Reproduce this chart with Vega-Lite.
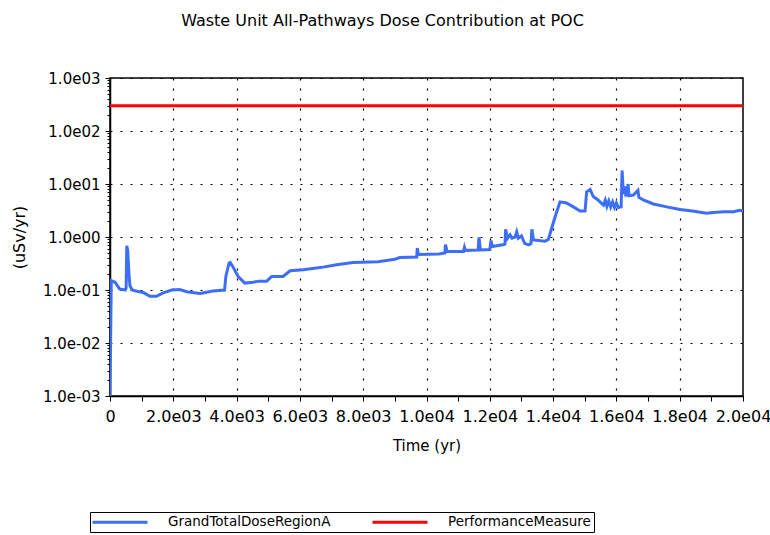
{
  "$schema": "https://vega.github.io/schema/vega-lite/v6.json",
  "width": 633,
  "height": 318,
  "autosize": "none",
  "padding": {"left": 110, "top": 78, "right": 27, "bottom": 139},
  "background": "white",
  "title": {
    "text": "Waste Unit All-Pathways Dose Contribution at POC",
    "font": "DejaVu Sans",
    "fontSize": 16,
    "fontWeight": "normal",
    "color": "black",
    "anchor": "middle",
    "offset": 42,
    "dx": -44
  },
  "data": {
    "values": [
      {"series": "GrandTotalDoseRegionA", "t": 0, "v": 0.001},
      {"series": "GrandTotalDoseRegionA", "t": 40, "v": 0.15},
      {"series": "GrandTotalDoseRegionA", "t": 160, "v": 0.14},
      {"series": "GrandTotalDoseRegionA", "t": 300, "v": 0.105},
      {"series": "GrandTotalDoseRegionA", "t": 480, "v": 0.1},
      {"series": "GrandTotalDoseRegionA", "t": 510, "v": 0.11},
      {"series": "GrandTotalDoseRegionA", "t": 530, "v": 0.68},
      {"series": "GrandTotalDoseRegionA", "t": 560, "v": 0.55},
      {"series": "GrandTotalDoseRegionA", "t": 600, "v": 0.2},
      {"series": "GrandTotalDoseRegionA", "t": 630, "v": 0.12},
      {"series": "GrandTotalDoseRegionA", "t": 700, "v": 0.1},
      {"series": "GrandTotalDoseRegionA", "t": 850, "v": 0.095},
      {"series": "GrandTotalDoseRegionA", "t": 1050, "v": 0.09},
      {"series": "GrandTotalDoseRegionA", "t": 1260, "v": 0.076},
      {"series": "GrandTotalDoseRegionA", "t": 1470, "v": 0.076},
      {"series": "GrandTotalDoseRegionA", "t": 1680, "v": 0.088},
      {"series": "GrandTotalDoseRegionA", "t": 1950, "v": 0.1},
      {"series": "GrandTotalDoseRegionA", "t": 2200, "v": 0.102},
      {"series": "GrandTotalDoseRegionA", "t": 2460, "v": 0.092},
      {"series": "GrandTotalDoseRegionA", "t": 2850, "v": 0.086},
      {"series": "GrandTotalDoseRegionA", "t": 3250, "v": 0.096},
      {"series": "GrandTotalDoseRegionA", "t": 3620, "v": 0.1},
      {"series": "GrandTotalDoseRegionA", "t": 3660, "v": 0.18},
      {"series": "GrandTotalDoseRegionA", "t": 3760, "v": 0.32},
      {"series": "GrandTotalDoseRegionA", "t": 3800, "v": 0.33},
      {"series": "GrandTotalDoseRegionA", "t": 3890, "v": 0.27},
      {"series": "GrandTotalDoseRegionA", "t": 4050, "v": 0.18},
      {"series": "GrandTotalDoseRegionA", "t": 4260, "v": 0.135},
      {"series": "GrandTotalDoseRegionA", "t": 4520, "v": 0.14},
      {"series": "GrandTotalDoseRegionA", "t": 4700, "v": 0.147},
      {"series": "GrandTotalDoseRegionA", "t": 4950, "v": 0.147},
      {"series": "GrandTotalDoseRegionA", "t": 5110, "v": 0.18},
      {"series": "GrandTotalDoseRegionA", "t": 5470, "v": 0.18},
      {"series": "GrandTotalDoseRegionA", "t": 5690, "v": 0.23},
      {"series": "GrandTotalDoseRegionA", "t": 6100, "v": 0.24},
      {"series": "GrandTotalDoseRegionA", "t": 6530, "v": 0.26},
      {"series": "GrandTotalDoseRegionA", "t": 6730, "v": 0.27},
      {"series": "GrandTotalDoseRegionA", "t": 7160, "v": 0.3},
      {"series": "GrandTotalDoseRegionA", "t": 7680, "v": 0.33},
      {"series": "GrandTotalDoseRegionA", "t": 8470, "v": 0.34},
      {"series": "GrandTotalDoseRegionA", "t": 9000, "v": 0.38},
      {"series": "GrandTotalDoseRegionA", "t": 9160, "v": 0.41},
      {"series": "GrandTotalDoseRegionA", "t": 9690, "v": 0.42},
      {"series": "GrandTotalDoseRegionA", "t": 9710, "v": 0.62},
      {"series": "GrandTotalDoseRegionA", "t": 9740, "v": 0.47},
      {"series": "GrandTotalDoseRegionA", "t": 10400, "v": 0.48},
      {"series": "GrandTotalDoseRegionA", "t": 10580, "v": 0.5},
      {"series": "GrandTotalDoseRegionA", "t": 10600, "v": 0.72},
      {"series": "GrandTotalDoseRegionA", "t": 10650, "v": 0.53},
      {"series": "GrandTotalDoseRegionA", "t": 11170, "v": 0.53},
      {"series": "GrandTotalDoseRegionA", "t": 11200, "v": 0.64},
      {"series": "GrandTotalDoseRegionA", "t": 11230, "v": 0.56},
      {"series": "GrandTotalDoseRegionA", "t": 11630, "v": 0.57},
      {"series": "GrandTotalDoseRegionA", "t": 11660, "v": 0.98},
      {"series": "GrandTotalDoseRegionA", "t": 11700, "v": 0.57},
      {"series": "GrandTotalDoseRegionA", "t": 12000, "v": 0.58},
      {"series": "GrandTotalDoseRegionA", "t": 12040, "v": 0.86},
      {"series": "GrandTotalDoseRegionA", "t": 12080, "v": 0.66},
      {"series": "GrandTotalDoseRegionA", "t": 12450, "v": 0.72},
      {"series": "GrandTotalDoseRegionA", "t": 12480, "v": 0.74},
      {"series": "GrandTotalDoseRegionA", "t": 12500, "v": 1.4},
      {"series": "GrandTotalDoseRegionA", "t": 12560, "v": 0.95},
      {"series": "GrandTotalDoseRegionA", "t": 12640, "v": 1.1},
      {"series": "GrandTotalDoseRegionA", "t": 12700, "v": 0.95},
      {"series": "GrandTotalDoseRegionA", "t": 12800, "v": 1.0},
      {"series": "GrandTotalDoseRegionA", "t": 12850, "v": 1.25},
      {"series": "GrandTotalDoseRegionA", "t": 12900, "v": 0.95},
      {"series": "GrandTotalDoseRegionA", "t": 13000, "v": 1.05},
      {"series": "GrandTotalDoseRegionA", "t": 13100, "v": 0.76},
      {"series": "GrandTotalDoseRegionA", "t": 13230, "v": 0.71},
      {"series": "GrandTotalDoseRegionA", "t": 13300, "v": 0.75},
      {"series": "GrandTotalDoseRegionA", "t": 13330, "v": 1.4},
      {"series": "GrandTotalDoseRegionA", "t": 13380, "v": 0.88},
      {"series": "GrandTotalDoseRegionA", "t": 13740, "v": 0.83},
      {"series": "GrandTotalDoseRegionA", "t": 13850, "v": 0.9},
      {"series": "GrandTotalDoseRegionA", "t": 14000, "v": 1.8},
      {"series": "GrandTotalDoseRegionA", "t": 14100, "v": 2.8},
      {"series": "GrandTotalDoseRegionA", "t": 14220, "v": 4.6},
      {"series": "GrandTotalDoseRegionA", "t": 14420, "v": 4.4},
      {"series": "GrandTotalDoseRegionA", "t": 14640, "v": 3.7},
      {"series": "GrandTotalDoseRegionA", "t": 14850, "v": 3.1},
      {"series": "GrandTotalDoseRegionA", "t": 15010, "v": 3.1},
      {"series": "GrandTotalDoseRegionA", "t": 15060, "v": 7.1},
      {"series": "GrandTotalDoseRegionA", "t": 15170, "v": 7.9},
      {"series": "GrandTotalDoseRegionA", "t": 15270, "v": 5.8},
      {"series": "GrandTotalDoseRegionA", "t": 15420, "v": 5.0},
      {"series": "GrandTotalDoseRegionA", "t": 15530, "v": 4.3},
      {"series": "GrandTotalDoseRegionA", "t": 15590, "v": 4.0},
      {"series": "GrandTotalDoseRegionA", "t": 15650, "v": 5.0},
      {"series": "GrandTotalDoseRegionA", "t": 15700, "v": 3.8},
      {"series": "GrandTotalDoseRegionA", "t": 15760, "v": 4.8},
      {"series": "GrandTotalDoseRegionA", "t": 15820, "v": 3.7},
      {"series": "GrandTotalDoseRegionA", "t": 15880, "v": 4.6},
      {"series": "GrandTotalDoseRegionA", "t": 15940, "v": 3.6},
      {"series": "GrandTotalDoseRegionA", "t": 16000, "v": 4.4},
      {"series": "GrandTotalDoseRegionA", "t": 16060, "v": 3.6},
      {"series": "GrandTotalDoseRegionA", "t": 16150, "v": 3.7},
      {"series": "GrandTotalDoseRegionA", "t": 16180, "v": 18},
      {"series": "GrandTotalDoseRegionA", "t": 16220, "v": 6.5},
      {"series": "GrandTotalDoseRegionA", "t": 16260, "v": 9},
      {"series": "GrandTotalDoseRegionA", "t": 16300, "v": 5.8},
      {"series": "GrandTotalDoseRegionA", "t": 16370, "v": 10},
      {"series": "GrandTotalDoseRegionA", "t": 16400, "v": 6},
      {"series": "GrandTotalDoseRegionA", "t": 16540, "v": 6.2},
      {"series": "GrandTotalDoseRegionA", "t": 16680, "v": 7.6},
      {"series": "GrandTotalDoseRegionA", "t": 16710, "v": 5.6},
      {"series": "GrandTotalDoseRegionA", "t": 16850, "v": 5.0},
      {"series": "GrandTotalDoseRegionA", "t": 17170, "v": 4.2},
      {"series": "GrandTotalDoseRegionA", "t": 17590, "v": 3.7},
      {"series": "GrandTotalDoseRegionA", "t": 18010, "v": 3.3},
      {"series": "GrandTotalDoseRegionA", "t": 18400, "v": 3.1},
      {"series": "GrandTotalDoseRegionA", "t": 18850, "v": 2.8},
      {"series": "GrandTotalDoseRegionA", "t": 19060, "v": 2.9},
      {"series": "GrandTotalDoseRegionA", "t": 19400, "v": 3.0},
      {"series": "GrandTotalDoseRegionA", "t": 19700, "v": 3.0},
      {"series": "GrandTotalDoseRegionA", "t": 19900, "v": 3.2},
      {"series": "GrandTotalDoseRegionA", "t": 20000, "v": 3.1},
      {"series": "PerformanceMeasure", "t": 0, "v": 300},
      {"series": "PerformanceMeasure", "t": 20000, "v": 300}
    ]
  },
  "mark": {"type": "line", "strokeWidth": 3, "clip": true},
  "encoding": {
    "x": {
      "field": "t",
      "type": "quantitative",
      "scale": {"domain": [0, 20000], "nice": false, "zero": false},
      "axis": {
        "title": "Time (yr)",
        "values": [0, 1000, 2000, 3000, 4000, 5000, 6000, 7000, 8000, 9000, 10000, 11000, 12000, 13000, 14000, 15000, 16000, 17000, 18000, 19000, 20000],
        "labelExpr": "datum.value == 0 ? '0' : (datum.value % 2000 != 0 ? '' : format(datum.value / pow(10, floor(log(datum.value)/LN10 + 1e-9)), '.1f') + 'e0' + floor(log(datum.value)/LN10 + 1e-9))",
        "labelFontSize": 16,
        "labelPadding": 7,
        "labelOverlap": false,
        "labelFlush": false,
        "titleFontSize": 15,
        "titlePadding": 14,
        "grid": true,
        "gridOpacity": {"condition": {"test": "datum.value % 2000 == 0 && datum.value > 0 && datum.value < 20000", "value": 1}, "value": 0}
      }
    },
    "y": {
      "field": "v",
      "type": "quantitative",
      "scale": {"type": "log", "domain": [0.001, 1000], "nice": false},
      "axis": {
        "title": "(uSv/yr)",
        "values": [0.001, 0.002, 0.003, 0.004, 0.005, 0.006, 0.007, 0.008, 0.009, 0.01, 0.02, 0.03, 0.04, 0.05, 0.06, 0.07, 0.08, 0.09, 0.1, 0.2, 0.3, 0.4, 0.5, 0.6, 0.7, 0.8, 0.9, 1, 2, 3, 4, 5, 6, 7, 8, 9, 10, 20, 30, 40, 50, 60, 70, 80, 90, 100, 200, 300, 400, 500, 600, 700, 800, 900, 1000],
        "labelExpr": "(abs(log(datum.value)/LN10 - round(log(datum.value)/LN10)) < 0.001) ? ('1.0e' + (round(log(datum.value)/LN10) < 0 ? '-' : '') + '0' + abs(round(log(datum.value)/LN10))) : ''",
        "labelFontSize": 15,
        "labelPadding": 5,
        "labelOverlap": false,
        "labelFlush": false,
        "titleFontSize": 16,
        "titlePadding": 15,
        "tickSize": {"condition": {"test": "abs(log(datum.value)/LN10 - round(log(datum.value)/LN10)) < 0.001", "value": 5}, "value": 3},
        "grid": true,
        "gridOpacity": {"condition": {"test": "abs(log(datum.value)/LN10 - round(log(datum.value)/LN10)) < 0.001", "value": 1}, "value": 0}
      }
    },
    "color": {
      "field": "series",
      "type": "nominal",
      "scale": {"domain": ["GrandTotalDoseRegionA", "PerformanceMeasure"], "range": ["#3D6EF7", "#FF0000"]},
      "legend": {
        "title": null,
        "orient": "none",
        "legendX": -20,
        "legendY": 434,
        "direction": "horizontal",
        "columns": 2,
        "symbolType": "M-5,0H5",
        "symbolSize": 121,
        "symbolStrokeWidth": 3,
        "symbolOffset": 20,
        "labelFont": "DejaVu Sans",
        "labelFontSize": 13.5,
        "labelColor": "black",
        "labelLimit": 400,
        "labelOffset": 41,
        "columnPadding": 35,
        "strokeColor": "black",
        "padding": 3
      }
    }
  },
  "config": {
    "view": {"stroke": "black", "strokeWidth": 1.5},
    "axis": {
      "labelFont": "DejaVu Sans",
      "titleFont": "DejaVu Sans",
      "labelColor": "black",
      "titleColor": "black",
      "titleFontWeight": "normal",
      "domainColor": "black",
      "domainWidth": 1.5,
      "tickColor": "black",
      "tickSize": 5,
      "tickWidth": 1,
      "gridColor": "black",
      "gridDash": [2, 8],
      "gridWidth": 1.2
    }
  }
}
